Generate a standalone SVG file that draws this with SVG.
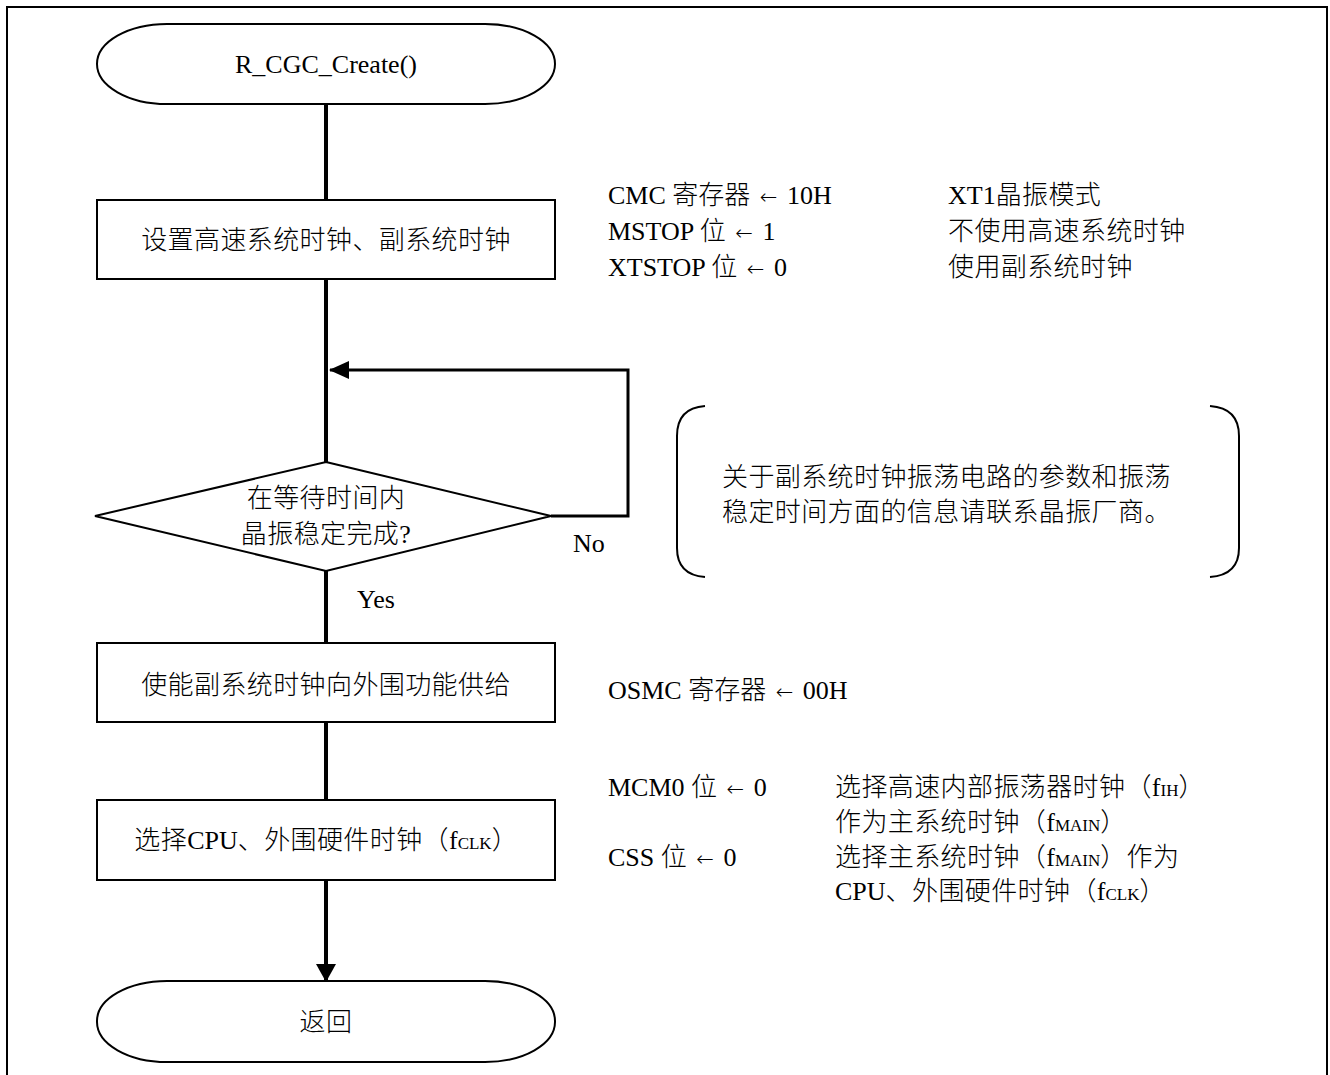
<svg xmlns="http://www.w3.org/2000/svg" width="1330" height="1075" viewBox="0 0 1330 1075">
  <style>
    .t { font-family: "Liberation Serif", "Noto Sans CJK SC", serif; font-size: 26px; font-weight: 300; fill: #000; }
    .c { text-anchor: middle; }
    .cj { letter-spacing: 0.4px; }
    .shape { fill: #fff; stroke: #000; stroke-width: 2; }
    .flow { fill: none; stroke: #000; stroke-width: 4; }
    .loop { fill: none; stroke: #000; stroke-width: 3; }
    .brace { fill: none; stroke: #000; stroke-width: 2; }
    .sub { font-size: 17px; }
    .arr { font-family: "DejaVu Sans", sans-serif; font-size: 21px; }
  </style>
  <defs>
    <marker id="arrowDown" markerUnits="userSpaceOnUse" markerWidth="20" markerHeight="18" refX="10" refY="17" orient="0" viewBox="0 0 20 18">
      <path d="M0,0 L20,0 L10,18 Z" fill="#000"/>
    </marker>
    <marker id="arrowLeft" markerUnits="userSpaceOnUse" markerWidth="20" markerHeight="18" refX="1" refY="9" orient="0" viewBox="0 0 20 18">
      <path d="M20,0 L20,18 L0,9 Z" fill="#000"/>
    </marker>
  </defs>

  <!-- outer frame -->
  <rect x="7" y="7" width="1320" height="1080" fill="#fff" stroke="#000" stroke-width="2"/>

  <!-- connectors -->
  <g id="connectors">
    <line class="flow" x1="326" y1="104" x2="326" y2="200"/>
    <line class="flow" x1="326" y1="279" x2="326" y2="462"/>
    <line class="flow" x1="326" y1="571" x2="326" y2="643"/>
    <line class="flow" x1="326" y1="722" x2="326" y2="800"/>
    <line class="flow" x1="326" y1="880" x2="326" y2="981" marker-end="url(#arrowDown)"/>
    <polyline class="loop" points="551,516 628,516 628,370 330,370" marker-end="url(#arrowLeft)"/>
    <text class="t" x="573" y="552">No</text>
    <text class="t" x="357" y="608">Yes</text>
  </g>

  <g id="start">
    <rect class="shape" x="97" y="24" width="458" height="80" rx="70" ry="40"/>
    <text class="t c" x="326" y="73">R_CGC_Create()</text>
  </g>

  <g id="set-clocks">
    <rect class="shape" x="97" y="200" width="458" height="79"/>
    <text class="t c cj" x="326" y="249">设置高速系统时钟、副系统时钟</text>
  </g>

  <g id="wait-stable">
    <polygon class="shape" points="326,462 551,516 326,571 95,516"/>
    <text class="t c cj" x="326" y="507">在等待时间内</text>
    <text class="t c cj" x="326" y="543">晶振稳定完成?</text>
  </g>

  <g id="enable-sub">
    <rect class="shape" x="97" y="643" width="458" height="79"/>
    <text class="t c cj" x="326" y="694">使能副系统时钟向外围功能供给</text>
  </g>

  <g id="select-fclk">
    <rect class="shape" x="97" y="800" width="458" height="80"/>
    <text class="t c" x="326" y="849"><tspan class="cj">选择</tspan>CPU<tspan class="cj">、外围硬件时钟（</tspan>f<tspan class="sub">CLK</tspan>）</text>
  </g>

  <g id="return">
    <rect class="shape" x="97" y="981" width="458" height="81" rx="70" ry="40"/>
    <text class="t c cj" x="326" y="1031">返回</text>
  </g>

  <!-- register settings beside the steps -->
  <g id="note-clocks">
    <text class="t" x="608" y="204">CMC 寄存器 <tspan class="arr" dx="3">←</tspan><tspan dx="3"> 10H</tspan></text>
    <text class="t" x="608" y="240">MSTOP 位 <tspan class="arr" dx="3">←</tspan><tspan dx="3"> 1</tspan></text>
    <text class="t" x="608" y="276">XTSTOP 位 <tspan class="arr" dx="3">←</tspan><tspan dx="3"> 0</tspan></text>
    <text class="t" x="948" y="204">XT1<tspan class="cj">晶振模式</tspan></text>
    <text class="t cj" x="948" y="240">不使用高速系统时钟</text>
    <text class="t cj" x="948" y="276">使用副系统时钟</text>
  </g>

  <g id="note-oscillator">
    <path class="brace" d="M705,406 Q677,408 677,436 L677,548 Q677,575 705,577"/>
    <path class="brace" d="M1210,406 Q1239,408 1239,436 L1239,548 Q1239,575 1210,577"/>
    <text class="t cj" x="722" y="486">关于副系统时钟振荡电路的参数和振荡</text>
    <text class="t cj" x="722" y="521">稳定时间方面的信息请联系晶振厂商。</text>
  </g>

  <g id="note-osmc">
    <text class="t" x="608" y="699">OSMC 寄存器 <tspan class="arr" dx="3">←</tspan><tspan dx="3"> 00H</tspan></text>
  </g>

  <g id="note-fclk">
    <text class="t" x="608" y="796">MCM0 位 <tspan class="arr" dx="3">←</tspan><tspan dx="3"> 0</tspan></text>
    <text class="t" x="608" y="866">CSS 位 <tspan class="arr" dx="3">←</tspan><tspan dx="3"> 0</tspan></text>
    <text class="t" x="835" y="796"><tspan class="cj">选择高速内部振荡器时钟（</tspan>f<tspan class="sub">IH</tspan>）</text>
    <text class="t" x="835" y="831"><tspan class="cj">作为主系统时钟（</tspan>f<tspan class="sub">MAIN</tspan>）</text>
    <text class="t" x="835" y="866"><tspan class="cj">选择主系统时钟（</tspan>f<tspan class="sub">MAIN</tspan><tspan class="cj">）作为</tspan></text>
    <text class="t" x="835" y="900">CPU<tspan class="cj">、外围硬件时钟（</tspan>f<tspan class="sub">CLK</tspan>）</text>
  </g>
</svg>
